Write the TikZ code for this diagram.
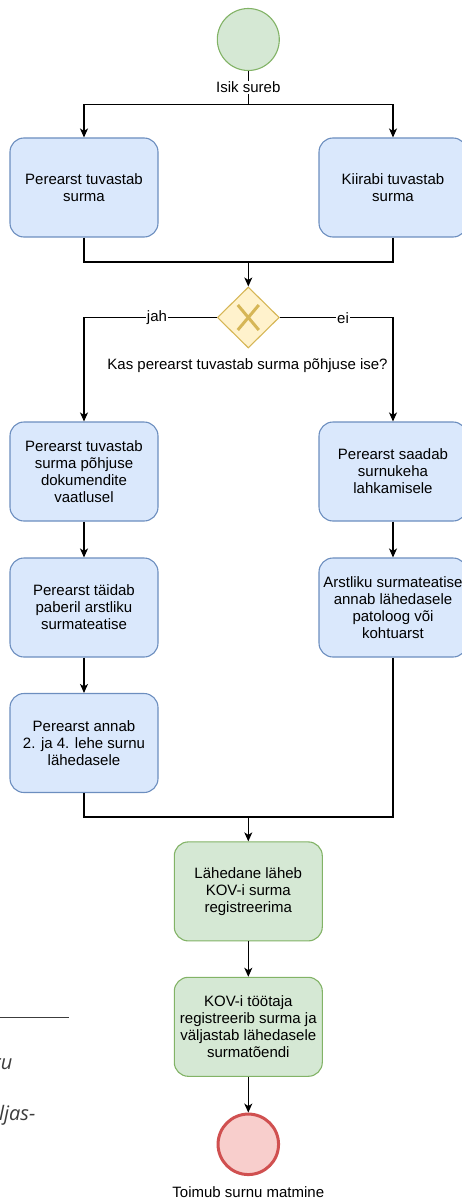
\documentclass[tikz,border=0pt]{standalone}
\usepackage{fontspec}
\setmainfont{Liberation Sans}
\newfontfamily\strayfont{Open Sans}
\usetikzlibrary{shapes.geometric,arrows.meta}
\definecolor{bluefill}{HTML}{DAE8FC}
\definecolor{bluedraw}{HTML}{6C8EBF}
\definecolor{greenfill}{HTML}{D5E8D4}
\definecolor{greendraw}{HTML}{82B366}
\definecolor{gwfill}{HTML}{FFF2CC}
\definecolor{gwdraw}{HTML}{D6B656}
\definecolor{endfill}{HTML}{F8CECC}
\definecolor{enddraw}{HTML}{D05050}
\definecolor{straygray}{HTML}{3C3C3C}
\tikzset{
  mainfont/.style={font=\fontsize{15}{17}\selectfont},
  task/.style={rectangle, rounded corners=14pt, draw=bluedraw, fill=bluefill, line width=1.1pt,
    minimum width=148pt, minimum height=99pt, inner sep=0pt, align=center, mainfont},
  gtask/.style={task, draw=greendraw, fill=greenfill},
  conn/.style={line width=1.2pt, draw=black},
  arr/.style={conn, -{Stealth[length=9pt,width=8pt,inset=2.5pt]}},
  lbl/.style={fill=white, inner sep=1pt, mainfont, text=black},
}
\begin{document}
\begin{tikzpicture}[x=1pt,y=-1pt]
\useasboundingbox (0,0) rectangle (462,1198);
\begin{scope}
\clip (0,0) rectangle (462,1198);

% start event
\node[circle, draw=greendraw, fill=greenfill, line width=1.1pt, minimum size=62pt, inner sep=0pt] (start) at (248.3,39.5) {};
\coordinate (split) at (248.3,104.5);

% first tasks
\node[task] (b1) at (84,187.5) {Perearst tuvastab\\surma};
\node[task] (b2) at (393,187.5) {Kiirabi tuvastab\\surma};

\draw[conn] (start.south) -- (split);
\draw[arr] (split) -| (b1.north);
\draw[arr] (split) -| (b2.north);
\node[lbl, anchor=base] (startlbl) at (248.3,92.5) {Isik sureb};

% gateway
\coordinate (m2) at (248.3,262);
\node[diamond, draw=gwdraw, fill=gwfill, line width=1.1pt, minimum width=62pt, minimum height=61pt, inner sep=0pt] (gw) at (248.3,317.5) {};
\draw[gwdraw, line width=3pt] ([shift={(-10.5,-12.5)}]gw.center) -- ([shift={(10.5,12.5)}]gw.center);
\draw[gwdraw, line width=3pt] ([shift={(10.5,-12.5)}]gw.center) -- ([shift={(-10.5,12.5)}]gw.center);

\draw[conn] (b1.south) |- (m2);
\draw[conn] (b2.south) |- (m2);
\draw[arr] (m2) -- (gw.north);

\node[mainfont, anchor=center] (question) at (247.5,366) {Kas perearst tuvastab surma põhjuse ise?};

% branches
\node[task] (b3) at (84,471.5) {Perearst tuvastab\\surma põhjuse\\dokumendite\\vaatlusel};
\node[task] (b4) at (84,607.5) {Perearst täidab\\paberil arstliku\\surmateatise};
\node[task] (b5) at (84,743) {Perearst annab\\2. ja 4. lehe surnu\\lähedasele};
\node[task] (b6) at (393,471.5) {Perearst saadab\\surnukeha\\lahkamisele};
\node[task] (b7) at (393,607.5) {Arstliku surmateatise\\annab lähedasele\\patoloog või\\kohtuarst};

\draw[arr] (gw.west) -| (b3.north);
\draw[arr] (gw.east) -| (b6.north);
\node[lbl] (jah) at (157,317.7) {jah};
\node[lbl] (ei) at (343,317.7) {ei};

\draw[arr] (b3) -- (b4);
\draw[arr] (b4) -- (b5);
\draw[arr] (b6) -- (b7);

% merge
\coordinate (m3) at (248.3,817);
\node[gtask] (g1) at (248.3,891.4) {Lähedane läheb\\KOV-i surma\\registreerima};
\node[gtask] (g2) at (248.3,1026.8) {KOV-i töötaja\\registreerib surma ja\\väljastab lähedasele\\surmatõendi};
\draw[conn] (b5.south) |- (m3);
\draw[conn] (b7.south) |- (m3);
\draw[arr] (m3) -- (g1.north);
\draw[arr] (g1) -- (g2);

% end event
\node[circle, draw=enddraw, fill=endfill, line width=3pt, minimum size=60.5pt, inner sep=0pt] (end) at (248.3,1144.3) {};
\draw[arr] (g2) -- (end);
\node[mainfont, anchor=base] (endlbl) at (248.3,1197) {Toimub surnu matmine};

% stray fragments at the left edge
\draw[straygray, line width=1.3pt] (0,1017.3) -- (69.3,1017.3);
\node[anchor=base east, inner sep=0pt, text=straygray, font=\strayfont\itshape\fontsize{20}{24}\selectfont] (frag1) at (12.5,1069.3) {ru};
\node[anchor=base east, inner sep=0pt, text=straygray, font=\strayfont\itshape\fontsize{20}{24}\selectfont] (frag2) at (35.5,1120.8) {ljas-};
\end{scope}
\end{tikzpicture}
\end{document}
